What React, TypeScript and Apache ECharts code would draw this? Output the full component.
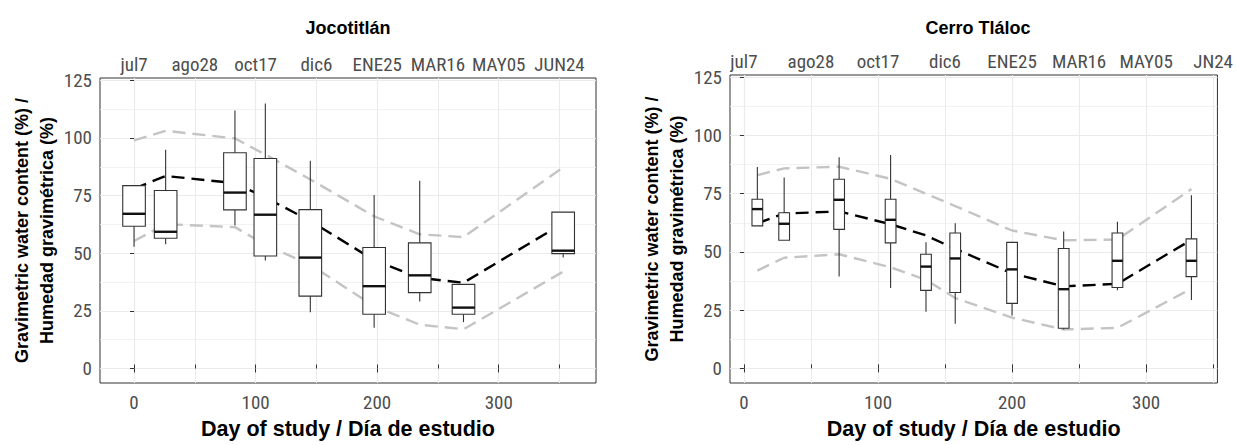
import React, { useEffect, useRef } from 'react';
import * as echarts from 'echarts';

// ---------- Jocotitlán ----------
const jocoDays = [0, 26, 83, 108, 145, 197.5, 235, 271, 353];
const jocoMin = [52.8, 53.9, 62.0, 46.8, 24.4, 17.7, 29.1, 20.1, 48.1];
const jocoQ1 = [61.7, 56.5, 68.8, 48.8, 31.4, 23.5, 32.9, 23.5, 49.8];
const jocoMedian = [67.1, 59.3, 76.3, 66.7, 48.1, 35.7, 40.4, 26.4, 51.1];
const jocoQ3 = [79.3, 77.2, 93.6, 91.1, 68.9, 52.5, 54.5, 36.5, 67.8];
const jocoMax = [79.3, 94.9, 111.9, 114.9, 90.1, 75.2, 81.4, 36.5, 67.8];
const jocoFit = [78, 83.5, 80.4, 74.2, 64, 47, 39.3, 37.2, 63];
const jocoUpper = [98.9, 103.1, 99.8, 92.8, 82, 66, 58.2, 57, 87.2];
const jocoLower = [55.3, 62.6, 61.3, 53.6, 45, 27, 19, 17, 42];

// ---------- Cerro Tláloc ----------
const tlalocDays = [10, 30, 71, 109.4, 135.8, 157.6, 200, 238.5, 278.6, 333.8];
const tlalocMin = [61.2, 55.0, 39.4, 34.5, 24.3, 19.1, 22.7, 16.7, 33.5, 29.3];
const tlalocQ1 = [61.2, 55.0, 59.7, 53.9, 33.5, 32.6, 27.9, 17.2, 34.7, 39.4];
const tlalocMedian = [68.4, 62.1, 72.4, 63.8, 43.7, 47.2, 42.5, 34.0, 46.2, 46.2];
const tlalocQ3 = [72.6, 66.8, 81.2, 72.6, 49.0, 58.1, 54.1, 51.5, 58.1, 55.6];
const tlalocMax = [86.5, 82.0, 90.7, 91.6, 54.2, 62.3, 54.1, 58.8, 63.0, 74.3];
const tlalocFit = [62.3, 66.5, 67.4, 61.9, 57.1, 51.3, 40.8, 35.2, 36.3, 55.2];
const tlalocUpper = [83, 85.9, 86.6, 81.4, 75, 69.7, 59.2, 55, 55.3, 77];
const tlalocLower = [42, 47.5, 49, 43.4, 38, 30.2, 21.8, 16.7, 17.4, 34.2];

// ---------- axes ----------
const bottomTicks = [0, 100, 200, 300];
const topTickDays = [0, 50, 100, 150, 200, 250, 300, 350];
const jocoTopLabels = ['jul7', 'ago28', 'oct17', 'dic6', 'ENE25', 'MAR16', 'MAY05', 'JUN24'];
const tlalocTopLabels = ['jul7', 'ago28', 'oct17', 'dic6', 'ENE25', 'MAR16', 'MAY05', 'JN24'];
const yTicks = [0, 25, 50, 75, 100, 125];
const yMinorTicks = [12.5, 37.5, 62.5, 87.5, 112.5];
const panelTitles = ['Jocotitlán', 'Cerro Tláloc'];
const xTitle = 'Day of study / Día de estudio';
const yTitle = 'Gravimetric water content (%) /\nHumedad gravimétrica (%)';

const FONT = '"Liberation Sans Narrow", "Roboto Condensed", "DejaVu Sans Condensed", "Arial Narrow", "Liberation Sans", sans-serif';
const BOLD_FONT = '"Liberation Sans", Arial, Helvetica, sans-serif';
const GRID_COLOR = '#ebebeb';
const TICK_COLOR = '#4d4d4d';

const pairs = (xs: number[], ys: number[]) => xs.map((x, i) => [x, ys[i]]);
const boxRows = (d: number[], a: number[], b: number[], c: number[], e: number[], f: number[]) =>
  d.map((x, i) => [x, a[i], b[i], c[i], e[i], f[i]]);

function makeBoxRenderer(boxWidth: number) {
  return (params: any, api: any) => {
    const x = api.value(0);
    const lo = api.coord([x, api.value(1)]);
    const q1 = api.coord([x, api.value(2)]);
    const med = api.coord([x, api.value(3)]);
    const q3 = api.coord([x, api.value(4)]);
    const hi = api.coord([x, api.value(5)]);
    const w = api.size([boxWidth, 0])[0];
    const stroke = '#333333';
    return {
      type: 'group',
      children: [
        { type: 'line', shape: { x1: lo[0], y1: lo[1], x2: q1[0], y2: q1[1] }, style: { stroke, lineWidth: 1.1 } },
        { type: 'line', shape: { x1: hi[0], y1: hi[1], x2: q3[0], y2: q3[1] }, style: { stroke, lineWidth: 1.1 } },
        {
          type: 'rect',
          shape: { x: q3[0] - w / 2, y: q3[1], width: w, height: q1[1] - q3[1] },
          style: { fill: '#ffffff', stroke, lineWidth: 1.1 },
        },
        {
          type: 'line',
          shape: { x1: med[0] - w / 2, y1: med[1], x2: med[0] + w / 2, y2: med[1] },
          style: { stroke: '#111111', lineWidth: 2.4 },
        },
      ],
    };
  };
}

function axesFor(gridIndex: number, xMin: number, xMax: number, topLabels: string[]) {
  const xBottom = {
    type: 'value', gridIndex, min: xMin, max: xMax, position: 'bottom',
    name: xTitle, nameLocation: 'middle', nameGap: 35,
    nameTextStyle: { fontFamily: BOLD_FONT, fontSize: 21.5, fontWeight: 'bold', color: '#000' },
    axisLine: { show: false },
    axisTick: { show: true, customValues: bottomTicks, length: 4, lineStyle: { color: '#333', width: 1 } },
    axisLabel: { customValues: bottomTicks, fontFamily: FONT, fontSize: 19, color: TICK_COLOR, margin: 10 },
    splitLine: { show: true, lineStyle: { color: GRID_COLOR, width: 1.1 } },
  };
  const xTop = {
    type: 'value', gridIndex, min: xMin, max: xMax, position: 'top',
    axisLine: { show: false },
    axisTick: { show: true, customValues: topTickDays, length: 4, lineStyle: { color: '#333', width: 1 } },
    axisLabel: {
      customValues: topTickDays, fontFamily: FONT, fontSize: 19, color: TICK_COLOR, margin: 4,
      formatter: (v: number) => topLabels[topTickDays.indexOf(v)] ?? '',
    },
    splitLine: { show: true, lineStyle: { color: GRID_COLOR, width: 1.1 } },
  };
  const yMain = {
    type: 'value', gridIndex, min: -6.3, max: 126,
    name: yTitle, nameLocation: 'middle', nameGap: 40, nameRotate: 90,
    nameTextStyle: { fontFamily: BOLD_FONT, fontSize: 18, fontWeight: 'bold', color: '#000', lineHeight: 25, align: 'center' },
    axisLine: { show: false },
    axisTick: { show: true, customValues: yTicks, length: 4, lineStyle: { color: '#333', width: 1 } },
    axisLabel: { customValues: yTicks, fontFamily: FONT, fontSize: 19, color: TICK_COLOR, margin: 8 },
    splitLine: { show: true, lineStyle: { color: GRID_COLOR, width: 1.1 } },
  };
  const yMinor = {
    type: 'value', gridIndex, min: -6.3, max: 126,
    axisLine: { show: false },
    axisTick: { show: false, customValues: yMinorTicks },
    axisLabel: { show: false, customValues: yMinorTicks },
    splitLine: { show: true, lineStyle: { color: '#efefef', width: 0.8 } },
  };
  return { x: [xBottom, xTop], y: [yMain, yMinor] };
}

function seriesFor(
  xAxisIndex: number, yAxisIndex: number, days: number[], upper: number[], lower: number[], fit: number[],
  boxes: number[][], boxWidth: number,
) {
  const grey = { color: '#c4c4c4', width: 2.4, type: [13, 7] as any };
  const common = { type: 'line', xAxisIndex, yAxisIndex, symbol: 'none', showSymbol: false, silent: true, z: 2 };
  return [
    { ...common, data: pairs(days, upper), lineStyle: grey },
    { ...common, data: pairs(days, lower), lineStyle: grey },
    { ...common, data: pairs(days, fit), lineStyle: { color: '#000', width: 2.4, type: [13, 7] as any } },
    {
      type: 'custom', xAxisIndex, yAxisIndex, z: 3, silent: true,
      renderItem: makeBoxRenderer(boxWidth),
      encode: { x: 0, y: [1, 2, 3, 4, 5] },
      data: boxes,
    },
  ];
}

export default function App() {
  const ref = useRef<HTMLDivElement>(null);
  useEffect(() => {
    const chart = echarts.init(ref.current!, null, { renderer: 'svg' });
    const a1 = axesFor(0, -28, 380, jocoTopLabels);
    const a2 = axesFor(1, -10.4, 353.2, tlalocTopLabels);
    const titleStyle = { fontFamily: BOLD_FONT, fontSize: 18, fontWeight: 'bold', color: '#000' };
    const option: any = {
      animation: false,
      backgroundColor: '#ffffff',
      title: [
        { text: panelTitles[0], left: 348, top: 19, textAlign: 'center', padding: 0, textStyle: titleStyle },
        { text: panelTitles[1], left: 978, top: 19, textAlign: 'center', padding: 0, textStyle: titleStyle },
      ],
      grid: [
        { left: 100, top: 78, width: 496, height: 311, show: true, borderColor: '#333333', borderWidth: 1, backgroundColor: 'transparent' },
        { left: 730, top: 75, width: 497, height: 314, show: true, borderColor: '#333333', borderWidth: 1, backgroundColor: 'transparent' },
      ],
      xAxis: [...a1.x, ...a2.x],
      yAxis: [...a1.y, ...a2.y],
      series: [
        ...seriesFor(0, 0, jocoDays, jocoUpper, jocoLower, jocoFit,
          boxRows(jocoDays, jocoMin, jocoQ1, jocoMedian, jocoQ3, jocoMax), 18.6),
        ...seriesFor(2, 2, tlalocDays, tlalocUpper, tlalocLower, tlalocFit,
          boxRows(tlalocDays, tlalocMin, tlalocQ1, tlalocMedian, tlalocQ3, tlalocMax), 8),
      ],
    };
    chart.setOption(option);
    return () => chart.dispose();
  }, []);
  return (
    <div
      ref={ref}
      style={{ position: 'absolute', left: 0, top: 0, width: 1236, height: 445, background: '#fff' }}
    />
  );
}
